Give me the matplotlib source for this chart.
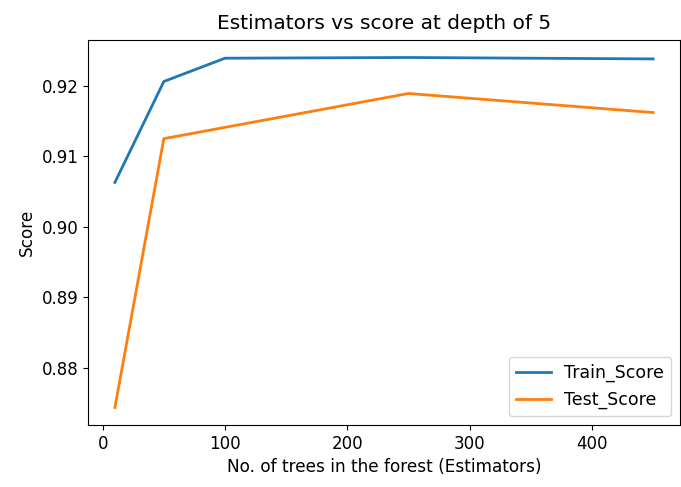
import matplotlib
matplotlib.use("Agg")
import matplotlib.pyplot as plt

# Number of trees in the random forest and the resulting accuracy scores
n_estimators = [10, 50, 100, 250, 450]
train_score = [0.9063, 0.9206, 0.9239, 0.9240, 0.9238]
test_score = [0.8744, 0.9125, 0.9141, 0.9189, 0.9162]

fig = plt.figure(figsize=(6.81, 4.87), dpi=100)
ax = fig.add_axes([88 / 681, 1 - 425 / 487, (680 - 88) / 681, (425 - 40) / 487])

ax.plot(n_estimators, train_score, label="Train_Score", linewidth=2.0)
ax.plot(n_estimators, test_score, label="Test_Score", linewidth=2.0)

ax.set_title("Estimators vs score at depth of 5", fontsize=14.5, pad=8)
ax.set_xlabel("No. of trees in the forest (Estimators)", fontsize=12.2)
ax.set_ylabel("Score", fontsize=12.2)
ax.tick_params(labelsize=12)
ax.legend(loc="lower right", fontsize=12.5)

fig.savefig("out.png", dpi=100)
